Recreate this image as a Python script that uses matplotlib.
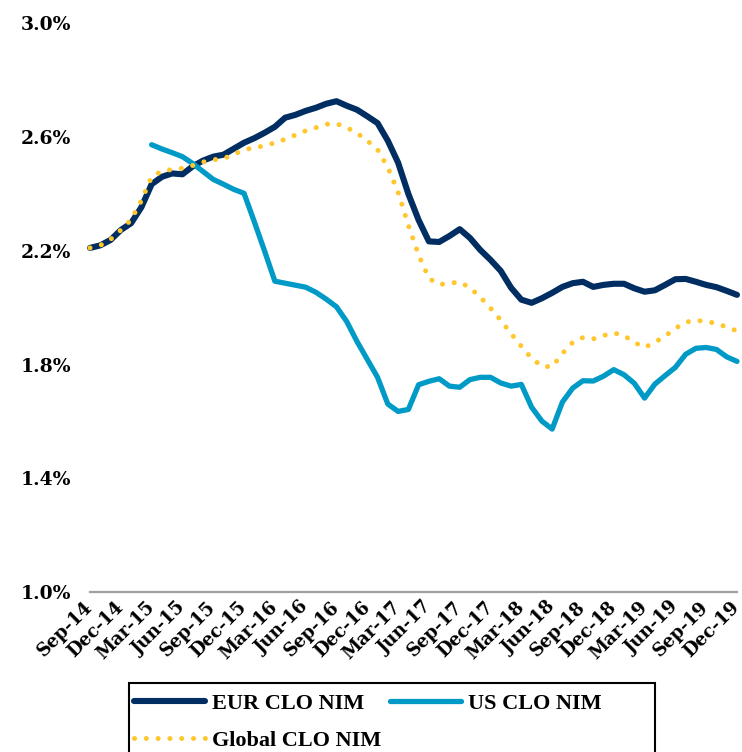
import matplotlib
matplotlib.use("Agg")
import matplotlib.pyplot as plt
from matplotlib.patches import Rectangle
from matplotlib.font_manager import FontProperties

# monthly NIM (%), Sep-14 .. Dec-19
eur_nim = [2.210, 2.219, 2.238, 2.273, 2.297, 2.353, 2.434, 2.460, 2.472, 2.469,
           2.497, 2.517, 2.531, 2.538, 2.559, 2.580, 2.596, 2.615, 2.636, 2.668,
           2.678, 2.692, 2.703, 2.717, 2.726, 2.710, 2.696, 2.673, 2.649, 2.587,
           2.510, 2.400, 2.308, 2.233, 2.231, 2.252, 2.276, 2.245, 2.203, 2.168,
           2.129, 2.070, 2.028, 2.017, 2.033, 2.052, 2.073, 2.086, 2.091, 2.073,
           2.080, 2.084, 2.084, 2.068, 2.056, 2.061, 2.080, 2.100, 2.101, 2.091,
           2.080, 2.072, 2.059, 2.045]

# US series starts in Mar-15
us_start = 6
us_nim = [2.573, 2.558, 2.545, 2.531, 2.507, 2.479, 2.451, 2.434, 2.416, 2.402,
          2.302, 2.199, 2.093, 2.086, 2.079, 2.072, 2.054, 2.030, 2.003, 1.951,
          1.881, 1.818, 1.755, 1.661, 1.635, 1.642, 1.729, 1.741, 1.750, 1.724,
          1.720, 1.747, 1.755, 1.755, 1.735, 1.724, 1.730, 1.650, 1.601, 1.573,
          1.668, 1.717, 1.743, 1.742, 1.759, 1.782, 1.764, 1.734, 1.682, 1.731,
          1.761, 1.790, 1.836, 1.857, 1.860, 1.853, 1.827, 1.811]

global_nim = [2.210, 2.219, 2.240, 2.273, 2.309, 2.376, 2.460, 2.480, 2.486, 2.490,
              2.500, 2.512, 2.520, 2.524, 2.539, 2.555, 2.563, 2.569, 2.580, 2.592,
              2.607, 2.622, 2.633, 2.645, 2.647, 2.633, 2.614, 2.587, 2.556, 2.493,
              2.406, 2.290, 2.185, 2.103, 2.081, 2.086, 2.090, 2.070, 2.037, 1.998,
              1.956, 1.909, 1.864, 1.822, 1.794, 1.792, 1.839, 1.878, 1.895, 1.890,
              1.902, 1.911, 1.902, 1.878, 1.860, 1.878, 1.900, 1.927, 1.949, 1.955,
              1.952, 1.944, 1.932, 1.918]

tick_labels = ["Sep-14", "Dec-14", "Mar-15", "Jun-15", "Sep-15", "Dec-15",
               "Mar-16", "Jun-16", "Sep-16", "Dec-16", "Mar-17", "Jun-17",
               "Sep-17", "Dec-17", "Mar-18", "Jun-18", "Sep-18", "Dec-18",
               "Mar-19", "Jun-19", "Sep-19", "Dec-19"]
y_ticks = [1.0, 1.4, 1.8, 2.2, 2.6, 3.0]

navy = "#002D62"
blue = "#009AC7"
gold = "#FFC72C"

x = list(range(len(eur_nim)))
x_us = x[us_start:]

fig = plt.figure(figsize=(7.42, 7.52), dpi=100)
ax = fig.add_axes([90 / 742, 1 - 592 / 752, 647 / 742, (592 - 23.3) / 752])

l_eur, = ax.plot(x, eur_nim, color=navy, lw=4.4, solid_capstyle="round",
                 solid_joinstyle="round", clip_on=False, zorder=3)
l_us, = ax.plot(x_us, us_nim, color=blue, lw=3.8, solid_capstyle="round",
                solid_joinstyle="round", clip_on=False, zorder=4)
l_glob, = ax.plot(x, global_nim, color=gold, lw=3.6, linestyle=(0, (0.01, 2.35)),
                  dash_capstyle="round", clip_on=False, zorder=5)

ax.set_xlim(0, len(x) - 1)
ax.set_ylim(1.0, 3.0)
ax.set_yticks(y_ticks)
ax.set_yticklabels([f"{v:.1f}%" for v in y_ticks])
ax.set_xticks(range(0, len(x), 3))
ax.set_xticklabels(tick_labels, rotation=45, ha="right", va="center",
                   rotation_mode="anchor")
ax.tick_params(axis="y", length=0, pad=13.5)
ax.tick_params(axis="x", length=0, pad=9)

yfont = FontProperties(family="DejaVu Serif", weight="bold", size=13.5)
xfont = FontProperties(family="DejaVu Serif", weight="bold", size=13)
for t in ax.get_yticklabels():
    t.set_fontproperties(yfont)
for t in ax.get_xticklabels():
    t.set_fontproperties(xfont)

for s in ["top", "right", "left"]:
    ax.spines[s].set_visible(False)
ax.spines["bottom"].set_color("#A0A0A0")
ax.spines["bottom"].set_linewidth(1.6)

fig.legend([l_eur, l_glob, l_us], ["EUR CLO NIM", "Global CLO NIM", "US CLO NIM"],
           ncol=2, frameon=False, loc="upper left",
           bbox_to_anchor=(134 / 742, 1 - 693 / 752),
           prop={"family": "Liberation Serif", "weight": "bold", "size": 16},
           handlelength=3.2, handletextpad=0.3, columnspacing=0.4,
           labelspacing=0.75, borderpad=0, borderaxespad=0)

fig.patches.append(Rectangle((128.7 / 742, -0.05), (654.6 - 128.7) / 742,
                             (752 - 683) / 752 + 0.05, transform=fig.transFigure,
                             fill=False, edgecolor="black", lw=1.5))

fig.savefig("out.png", dpi=100)
